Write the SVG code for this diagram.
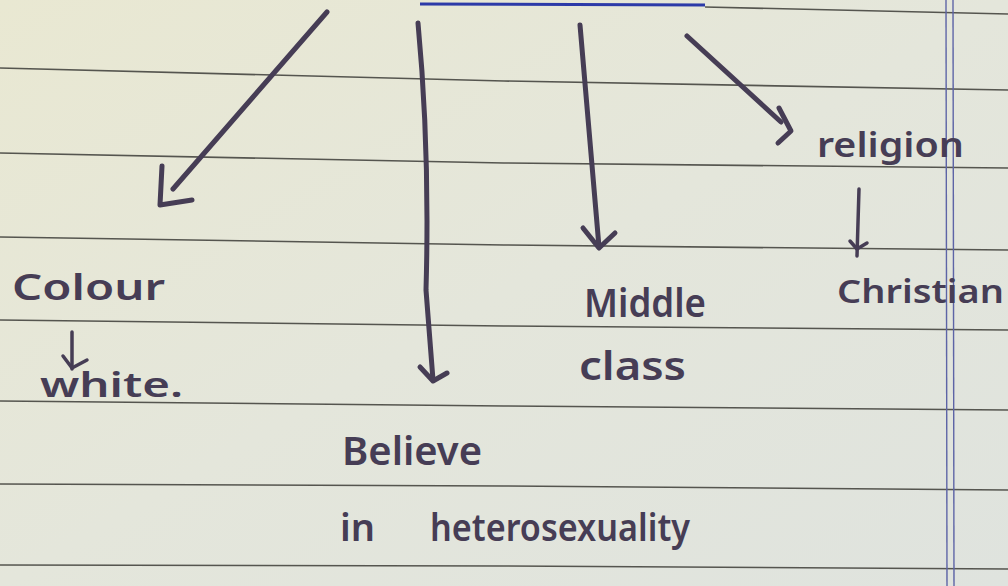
<svg xmlns="http://www.w3.org/2000/svg" width="1008" height="586" viewBox="0 0 1008 586">
  <defs>
    <linearGradient id="paper" x1="0" y1="0" x2="1" y2="1">
      <stop offset="0" stop-color="#e9e8d2"/>
      <stop offset="0.5" stop-color="#e4e6db"/>
      <stop offset="1" stop-color="#dfe3de"/>
    </linearGradient>
    <style>
      .rule { fill: none; stroke: #55554f; stroke-width: 1.6; }
      .margin { fill: none; stroke: #5d64a6; stroke-width: 1.4; }
      .ink { fill: none; stroke: #463d55; stroke-width: 5; stroke-linecap: round; stroke-linejoin: round; }
      .inkthin { fill: none; stroke: #463d55; stroke-width: 3.5; stroke-linecap: round; stroke-linejoin: round; }
      .label { fill: #463d55; font-family: "Noto Sans", "Liberation Sans", sans-serif; font-weight: 600; }
    </style>
  </defs>

  <!-- paper -->
  <rect x="0" y="0" width="1008" height="586" fill="url(#paper)"/>
  <g id="paper-lines">
    <polyline class="rule" points="705,7 1008,14"/>
    <polyline class="rule" points="0,68 504,81 1008,90"/>
    <polyline class="rule" points="0,153 504,163 1008,168"/>
    <polyline class="rule" points="0,237 504,245 1008,250"/>
    <polyline class="rule" points="0,320 504,326 1008,330"/>
    <polyline class="rule" points="0,401 504,406 1008,410"/>
    <polyline class="rule" points="0,484 504,486 1008,490"/>
    <polyline class="rule" points="0,565 504,566 1008,569"/>
    <line x1="420" y1="4" x2="705" y2="5" stroke="#2c3aa8" stroke-width="3"/>
    <line class="margin" x1="946" y1="0" x2="947" y2="586"/>
    <line class="margin" x1="953" y1="0" x2="954" y2="586"/>
  </g>

  <!-- connectors -->
  <g id="connectors">
    <!-- to Colour -->
    <path class="ink" d="M327,12 L173,189"/>
    <path class="ink" d="M162,166 L160,205 L192,200"/>
    <!-- to Believe -->
    <path class="ink" d="M418,23 Q430,150 426,290 L433,380"/>
    <path class="ink" d="M420,367 L433,381 L447,373"/>
    <!-- to Middle class -->
    <path class="ink" d="M580,25 L599,247"/>
    <path class="ink" d="M583,228 L599,248 L615,233"/>
    <!-- to religion -->
    <path class="ink" d="M687,36 L781,122"/>
    <path class="ink" d="M779,108 L791,131 L778,143"/>
    <!-- religion to Christian -->
    <path class="inkthin" d="M859,189 L857,256"/>
    <path class="inkthin" d="M850,241 L857,249 L867,243"/>
    <!-- Colour to white -->
    <path class="inkthin" d="M72,332 L72,369"/>
    <path class="inkthin" d="M63,356 L72,368 L87,360"/>
  </g>

  <g id="node-colour">
    <text class="label" x="12" y="300" font-size="36" textLength="153" lengthAdjust="spacingAndGlyphs">Colour</text>
  </g>
  <g id="node-white">
    <text class="label" x="40" y="397" font-size="34" textLength="143" lengthAdjust="spacingAndGlyphs">white.</text>
  </g>
  <g id="node-believe">
    <text class="label" x="342" y="465" font-size="40" textLength="140" lengthAdjust="spacingAndGlyphs">Believe</text>
    <text class="label" x="340" y="541" font-size="38"><tspan x="340">in</tspan><tspan x="430" textLength="260" lengthAdjust="spacingAndGlyphs">heterosexuality</tspan></text>
  </g>
  <g id="node-middle-class">
    <text class="label" x="584" y="317" font-size="40" textLength="122" lengthAdjust="spacingAndGlyphs">Middle</text>
    <text class="label" x="579" y="380" font-size="40" textLength="107" lengthAdjust="spacingAndGlyphs">class</text>
  </g>
  <g id="node-religion">
    <text class="label" x="817" y="157" font-size="34" textLength="147" lengthAdjust="spacingAndGlyphs">religion</text>
  </g>
  <g id="node-christian">
    <text class="label" x="837" y="303" font-size="32" textLength="167" lengthAdjust="spacingAndGlyphs">Christian</text>
  </g>
</svg>
